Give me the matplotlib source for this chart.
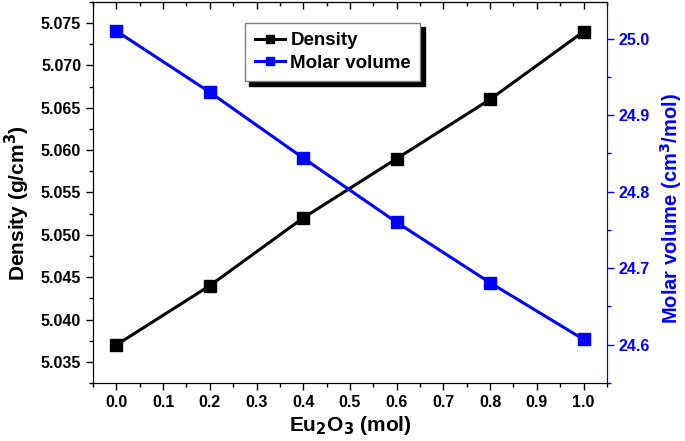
import matplotlib
matplotlib.use("Agg")
import matplotlib.pyplot as plt
from matplotlib.ticker import MultipleLocator

# data
eu2o3 = [0.0, 0.2, 0.4, 0.6, 0.8, 1.0]
density = [5.037, 5.044, 5.052, 5.059, 5.066, 5.074]
molar_volume = [25.01, 24.93, 24.844, 24.76, 24.681, 24.607]

plt.rcParams['font.family'] = ['Liberation Sans', 'DejaVu Sans']
plt.rcParams['font.weight'] = 'bold'
plt.rcParams['mathtext.default'] = 'bf'

fig = plt.figure(figsize=(6.85, 4.41), dpi=100)
ax = fig.add_axes([0.1358, 0.1315, 0.7502, 0.864])
ax2 = ax.twinx()

l1, = ax.plot(eu2o3, density, '-s', color='black', lw=2.2, ms=8, label='Density')
l2, = ax2.plot(eu2o3, molar_volume, '-s', color='blue', lw=2.2, ms=8, label='Molar volume')

ax.set_xlim(-0.05, 1.05)
ax.set_ylim(5.0325, 5.0775)
ax2.set_ylim(24.55, 25.048)

ax.xaxis.set_major_locator(MultipleLocator(0.1))
ax.xaxis.set_minor_locator(MultipleLocator(0.05))
ax.yaxis.set_major_locator(MultipleLocator(0.005))
ax.yaxis.set_minor_locator(MultipleLocator(0.0025))
ax2.yaxis.set_major_locator(MultipleLocator(0.1))
ax2.yaxis.set_minor_locator(MultipleLocator(0.05))
ax.xaxis.set_major_formatter(plt.FormatStrFormatter('%.1f'))
ax.yaxis.set_major_formatter(plt.FormatStrFormatter('%.3f'))
ax2.yaxis.set_major_formatter(plt.FormatStrFormatter('%.1f'))

ax.tick_params(axis='both', which='both', direction='out', labelsize=11.5, width=1)
ax.tick_params(which='major', length=5)
ax.tick_params(which='minor', length=3)
ax2.tick_params(axis='y', which='both', direction='out', colors='blue', labelsize=11.5, width=1)
ax2.tick_params(axis='y', which='major', length=5)
ax2.tick_params(axis='y', which='minor', length=3)
ax2.spines['right'].set_color('blue')

# top ticks point inward, no labels
top = ax.secondary_xaxis('top')
top.xaxis.set_major_locator(MultipleLocator(0.1))
top.xaxis.set_minor_locator(MultipleLocator(0.05))
top.tick_params(which='both', direction='in', labeltop=False, width=1)
top.tick_params(which='major', length=5)
top.tick_params(which='minor', length=3)

ax.set_xlabel('Eu$_\\mathbf{2}$O$_\\mathbf{3}$ (mol)', fontsize=15, fontweight='bold', labelpad=3)
ax.set_ylabel('Density (g/cm$^\\mathbf{3}$)', fontsize=15, fontweight='bold')
ax2.set_ylabel('Molar volume (cm$^\\mathbf{3}$/mol)', fontsize=14.5, fontweight='bold', color='blue')
ax.yaxis.set_label_coords(-0.119, 0.472)
ax2.yaxis.set_label_coords(1.10, 0.457)

leg = ax2.legend(handles=[l1, l2], loc='upper left', bbox_to_anchor=(0.278, 0.97),
                 fontsize=13.5, fancybox=False, edgecolor='gray', framealpha=1,
                 shadow={'color': 'black', 'alpha': 1, 'ox': 3, 'oy': -3},
                 handlelength=1.6, handletextpad=0.3, borderpad=0.5, labelspacing=0.3,
                 markerscale=0.7)

fig.savefig('out.png', dpi=100)
